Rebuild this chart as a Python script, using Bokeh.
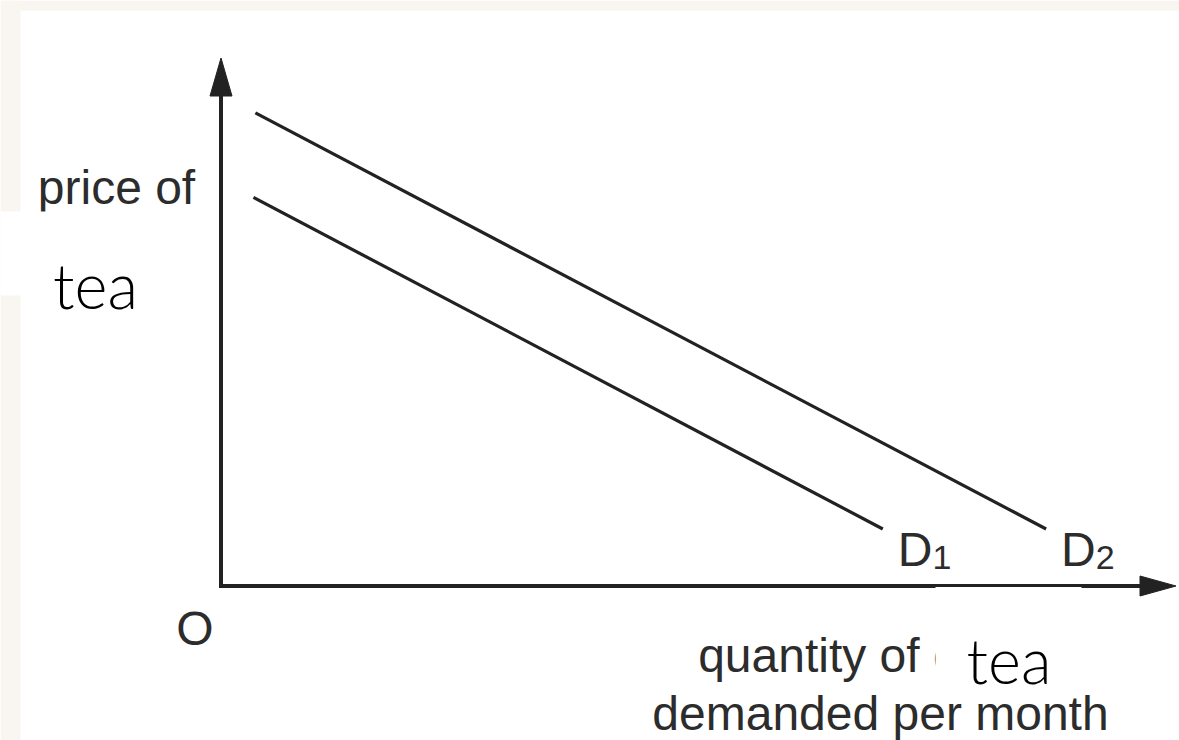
from bokeh.plotting import figure
from bokeh.models import Range1d
from bokeh.core.properties import value
from bokeh.embed import file_html
from bokeh.resources import INLINE

# ---------------- data ----------------
curve_names = ["D", "D"]
curve_subs = ["1", "2"]
d1_x = [3.4, 69.3]
d1_y = [73.6, 10.8]
d2_x = [3.6, 86.4]
d2_y = [89.6, 10.8]
y_label_lines = ["price of", "coffee"]
x_label_lines = ["quantity of coffee", "demanded per month"]
replacement_word = "tea"
origin_label = "O"
axis_max_x = 100
axis_max_y = 100

# ---------------- layout helpers ----------------
W, H = 1179, 740
OX, OY = 220.5, 585.5   # pixel of origin
KX, KY = 9.55, 5.28     # pixels per data unit


def px2x(px):
    return (px - OX) / KX


def py2y(py):
    return (OY - py) / KY


x0, x1 = px2x(0), px2x(W)
y0, y1 = py2y(H), py2y(0)

p = figure(width=W, height=H, x_range=Range1d(x0, x1), y_range=Range1d(y0, y1),
           min_border=0, toolbar_location=None, output_backend="svg",
           x_axis_location=None, y_axis_location=None)
p.grid.visible = False
p.outline_line_color = None
p.background_fill_color = "white"
p.border_fill_color = "white"

BEIGE = "#f9f5f0"
INK = "#222222"
TXT = "#2c2c2c"
FONT = value("Liberation Sans")
LIGHT = value("Lato Light, Liberation Sans")

# beige page strips
p.quad(left=[x0, x0], right=[px2x(20), x1], bottom=[y0, py2y(10)], top=[y1, y1],
       fill_color=BEIGE, line_color=None)

# axes with arrow heads
head_y_len, head_y_half = 38 / KY, 11 / KX
head_x_len, head_x_half = 36 / KX, 10 / KY
p.line(x=[0, 0, axis_max_x - head_x_len + 0.3], y=[axis_max_y - head_y_len + 0.3, 0, 0],
       line_color=INK, line_width=4, line_join="miter")
p.patches(xs=[[-head_y_half, 0, head_y_half],
              [axis_max_x - head_x_len, axis_max_x, axis_max_x - head_x_len]],
          ys=[[axis_max_y - head_y_len, axis_max_y, axis_max_y - head_y_len],
              [head_x_half, 0, -head_x_half]],
          fill_color=INK, line_color=INK, line_width=1)

# demand curves
for xs, ys, name, sub in [(d1_x, d1_y, curve_names[0], curve_subs[0]),
                          (d2_x, d2_y, curve_names[1], curve_subs[1])]:
    p.line(x=xs, y=ys, line_color=INK, line_width=3.2)
    lx = xs[-1] + 15 / KX
    ly = ys[-1] - 21 / KY
    p.text(x=[lx], y=[ly], text=[name], text_font=FONT, text_font_size="48px",
           text_color=TXT, text_align="left", text_baseline="alphabetic")
    p.text(x=[lx + 34.7 / KX], y=[ly - 8 / KY], text=[sub], text_font=FONT,
           text_font_size="34px", text_color=TXT, text_align="left",
           text_baseline="alphabetic")

# axis labels (original)
p.text(x=[px2x(116)] * 2, y=[py2y(187), py2y(242)], text=y_label_lines,
       text_font=FONT, text_font_size="48px", text_color=TXT,
       text_align="center", text_baseline="alphabetic")
p.text(x=[px2x(880)] * 2, y=[py2y(655), py2y(713)], text=x_label_lines,
       text_font=FONT, text_font_size="48px", text_color=TXT,
       text_align="center", text_baseline="alphabetic")
p.text(x=[px2x(194.5)], y=[py2y(628)], text=[origin_label],
       text_font=FONT, text_font_size="48px", text_color=TXT,
       text_align="center", text_baseline="alphabetic")

# white cover patches with replacement word
p.quad(left=[x0, px2x(935)], right=[px2x(205), px2x(1081)],
       bottom=[py2y(295), py2y(674)], top=[py2y(211), py2y(586.5)],
       fill_color="white", line_color=None)
p.text(x=[px2x(95), px2x(1008.5)], y=[py2y(284), py2y(659)],
       text=[replacement_word, replacement_word], text_font=LIGHT,
       text_font_size="63px", text_color="black", text_align="center",
       text_baseline="alphabetic")

open("out.html", "w").write(file_html(p, INLINE))
